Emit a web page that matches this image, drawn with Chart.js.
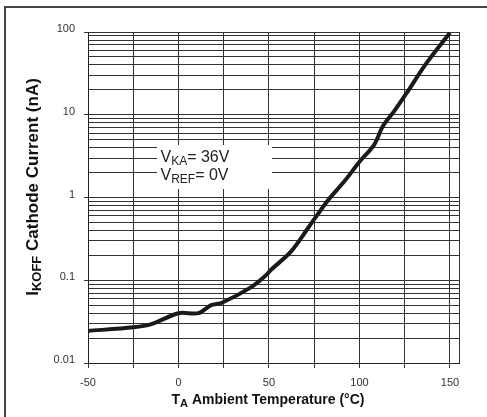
<!DOCTYPE html>
<html>
<head>
<meta charset="utf-8">
<script src="https://cdn.jsdelivr.net/npm/chart.js@4/dist/chart.umd.min.js"></script>
<style>
html, body { margin: 0; padding: 0; background: #fff; }
</style>
</head>
<body>
<canvas id="chart" width="487" height="417"></canvas>
<script>
// IKOFF vs ambient temperature
var temps = [-50, -25, -15, 0, 11, 18, 24, 40, 48, 51, 62, 72, 82, 92, 100, 108, 113, 119, 126, 137, 150];
var ikoff = [0.0244, 0.027, 0.0295, 0.040, 0.040, 0.050, 0.0535, 0.082, 0.113, 0.133, 0.22, 0.44, 0.89, 1.6, 2.7, 4.3, 7.3, 10.9, 18.2, 42, 98];

var xTicks = [-50, -25, 0, 25, 50, 75, 100, 125, 150, 155];
var xLabels = [-50, 0, 50, 100, 150];
var yDecades = [0.01, 0.1, 1, 10, 100];
var yLabels = ["0.01", "0.1", "1", "10", "100"];

var FONT = '"Liberation Sans", Arial, Helvetica, sans-serif';

// minor log grid: 1..9 per decade
var yTicks = [];
for (var d = 0; d < yDecades.length - 1; d++) {
  for (var m = 1; m < 10; m++) {
    yTicks.push(m == 1 ? yDecades[d] : yDecades[d] * m);
  }
}
yTicks.push(yDecades[yDecades.length - 1]);

var points = [];
for (var i = 0; i < temps.length; i++) {
  points.push({ x: temps[i], y: ikoff[i] });
}

// draws a run of text pieces, some of them subscripts
function drawParts(ctx, parts, x, y, align) {
  var total = 0;
  parts.forEach(function (p) {
    ctx.font = p.font;
    p.w = ctx.measureText(p.t).width;
    total += p.w;
  });
  var cx = align == "center" ? x - total / 2 : x;
  ctx.textAlign = "left";
  ctx.textBaseline = "alphabetic";
  parts.forEach(function (p) {
    ctx.font = p.font;
    ctx.fillText(p.t, cx, y + (p.dy || 0));
    cx += p.w;
  });
}

var decor = {
  id: "decor",
  beforeDatasetsDraw: function (chart) {
    var ctx = chart.ctx;
    ctx.save();
    // legend box for the test conditions
    ctx.fillStyle = "#fff";
    ctx.fillRect(157, 145, 115, 44);
    ctx.fillStyle = "#222";
    drawParts(ctx, [
      { t: "V", font: "16px " + FONT },
      { t: "KA", font: "12px " + FONT, dy: 3 },
      { t: "= 36V", font: "16px " + FONT }
    ], 160.5, 162, "left");
    drawParts(ctx, [
      { t: "V", font: "16px " + FONT },
      { t: "REF", font: "12px " + FONT, dy: 3 },
      { t: "= 0V", font: "16px " + FONT }
    ], 160.5, 180, "left");
    ctx.restore();
  },
  afterDraw: function (chart) {
    var ctx = chart.ctx;
    ctx.save();
    // frame (top and left only)
    ctx.strokeStyle = "#444";
    ctx.lineWidth = 2;
    ctx.beginPath();
    ctx.moveTo(487, 7);
    ctx.lineTo(5, 7);
    ctx.lineTo(5, 417);
    ctx.stroke();

    ctx.fillStyle = "#111";
    drawParts(ctx, [
      { t: "T", font: "bold 14px " + FONT },
      { t: "A", font: "bold 11px " + FONT, dy: 3 },
      { t: " Ambient Temperature (\u00B0C)", font: "bold 14px " + FONT }
    ], 268, 404, "center");

    ctx.translate(38, 187);
    ctx.rotate(-Math.PI / 2);
    drawParts(ctx, [
      { t: "I", font: "bold 17px " + FONT },
      { t: "KOFF", font: "bold 13px " + FONT, dy: 3 },
      { t: " Cathode Current (nA)", font: "bold 17px " + FONT }
    ], 0, 0, "center");
    ctx.restore();
  }
};

var ctx = document.getElementById("chart");
new Chart(ctx, {
  type: "line",
  data: {
    datasets: [
      {
        data: points,
        borderColor: "#1a1a1a",
        borderWidth: 4,
        pointRadius: 0,
        tension: 0.3,
        fill: false,
      },
    ],
  },
  options: {
    responsive: false,
    animation: false,
    layout: { padding: { left: 0, top: 32, right: 28, bottom: 0 } },
    plugins: {
      legend: { display: false },
      tooltip: { enabled: false },
    },
    scales: {
      x: {
        type: "linear",
        min: -50,
        max: 155,
        afterBuildTicks: function (scale) {
          scale.ticks = xTicks.map(function (v) { return { value: v }; });
        },
        afterFit: function (scale) {
          scale.height = 54;
        },
        grid: {
          color: "#333",
          lineWidth: 1,
          tickLength: 5,
          tickColor: function (c) {
            return c.tick && c.tick.value == 155 ? "rgba(0,0,0,0)" : "#333";
          },
        },
        border: { color: "#222", width: 1 },
        ticks: {
          autoSkip: false,
          maxRotation: 0,
          padding: 8,
          color: "#333",
          font: { family: FONT, size: 11 },
          callback: function (v) {
            return xLabels.indexOf(v) >= 0 ? String(v) : "";
          },
        },
      },
      y: {
        type: "logarithmic",
        min: 0.01,
        max: 100,
        afterBuildTicks: function (scale) {
          scale.ticks = yTicks.map(function (v) { return { value: v }; });
        },
        afterFit: function (scale) {
          scale.width = 88;
        },
        grid: {
          color: "#333",
          lineWidth: 1,
          tickLength: 4,
          tickColor: function (c) {
            return c.tick && yDecades.indexOf(c.tick.value) >= 0 ? "#333" : "rgba(0,0,0,0)";
          },
        },
        border: { color: "#222", width: 1 },
        ticks: {
          autoSkip: false,
          padding: 9,
          labelOffset: -3,
          color: "#333",
          font: { family: FONT, size: 11 },
          callback: function (v) {
            var k = yDecades.indexOf(v);
            return k >= 0 ? yLabels[k] : "";
          },
        },
      },
    },
  },
  plugins: [decor],
});
</script>
</body>
</html>
